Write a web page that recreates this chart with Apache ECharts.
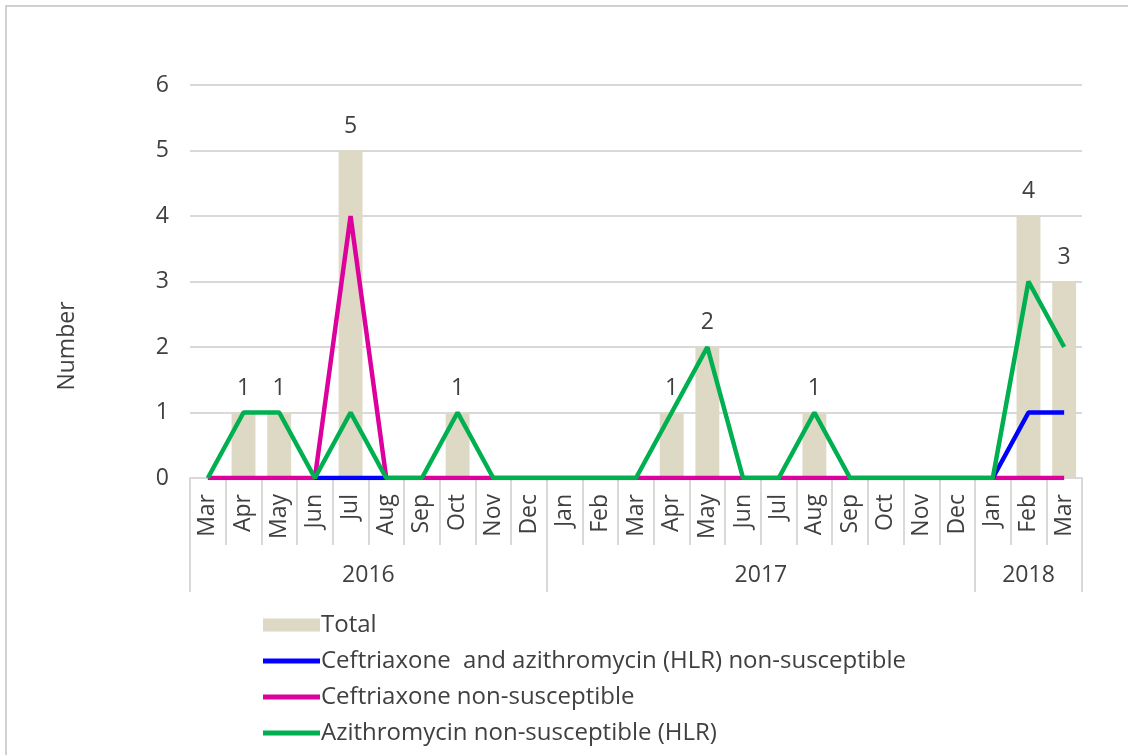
<!DOCTYPE html>
<html>
<head>
<meta charset="utf-8">
<script src="https://cdn.jsdelivr.net/npm/echarts@6/dist/echarts.min.js"></script>
<style>
	html, body { margin: 0; padding: 0; background: #fff; }
	#frame { position: absolute; left: 5px; top: 5px; width: 1130px; height: 760px; border: 2px solid #d0d0d0; box-sizing: border-box; }
	#chart { position: absolute; left: 0; top: 0; width: 1128px; height: 755px; }
</style>
</head>
<body>
<div id="frame"></div>
<div id="chart"></div>
<script>
	// months Mar 2016 - Mar 2018
	var months = ['Mar', 'Apr', 'May', 'Jun', 'Jul', 'Aug', 'Sep', 'Oct', 'Nov', 'Dec',
		'Jan', 'Feb', 'Mar', 'Apr', 'May', 'Jun', 'Jul', 'Aug', 'Sep', 'Oct', 'Nov', 'Dec',
		'Jan', 'Feb', 'Mar'];
	var years = ['2016', '2017', '2018'];
	var yearBounds = [0, 10, 22, 25]; // month index where each year starts

	var total = [0, 1, 1, 0, 5, 0, 0, 1, 0, 0, 0, 0, 0, 1, 2, 0, 0, 1, 0, 0, 0, 0, 0, 4, 3];
	var bothNonSus = [null, null, null, 0, 0, 0, null, null, null, null, null, null, null,
		null, null, null, null, null, null, null, null, null, 0, 1, 1];
	var ceftriaxone = [0, 0, 0, 0, 4, 0, 0, 0, 0, 0, 0, 0, 0, 0, 0, 0, 0, 0, 0, 0, 0, 0, 0, 0, 0];
	var azithromycin = [0, 1, 1, 0, 1, 0, 0, 1, 0, 0, 0, 0, 0, 1, 2, 0, 0, 1, 0, 0, 0, 0, 0, 3, 2];

	var font = '"Open Sans", sans-serif';
	var txt = '#404040';
	var gridColor = '#d9d9d9';
	var lineIcon = 'path://M0,0h57v5h-57z';

	// year label positions = middle of each year's span
	var yearMid = [];
	for (var i = 0; i < years.length; i++) {
		yearMid.push((yearBounds[i] + yearBounds[i + 1]) / 2);
	}

	var myChart = echarts.init(document.getElementById('chart'));
	myChart.setOption({
		animation: false,
		textStyle: { fontFamily: font },
		grid: { left: 190, right: 46, top: 85, bottom: 277 },
		graphic: [{
			type: 'text',
			x: 67,
			y: 346,
			rotation: Math.PI / 2,
			style: { text: 'Number', fontSize: 23, fontFamily: font, fill: txt, align: 'center', verticalAlign: 'middle' }
		}],
		legend: {
			orient: 'vertical',
			left: 258,
			top: 608,
			itemWidth: 57,
			itemHeight: 13,
			itemGap: 12,
			symbolKeepAspect: true,
			textStyle: { fontFamily: font, fontSize: 24, lineHeight: 24, color: txt, padding: [0, 0, 0, -4] },
			data: [
				{ name: 'Total', icon: 'rect' },
				{ name: 'Ceftriaxone  and azithromycin (HLR) non-susceptible', icon: lineIcon },
				{ name: 'Ceftriaxone non-susceptible', icon: lineIcon },
				{ name: 'Azithromycin non-susceptible (HLR)', icon: lineIcon }
			]
		},
		xAxis: [{
			type: 'category',
			data: months,
			boundaryGap: true,
			axisLine: { lineStyle: { color: gridColor, width: 2 } },
			axisTick: { show: true, interval: 0, length: 67, lineStyle: { color: gridColor, width: 2 } },
			axisLabel: { interval: 0, rotate: 90, margin: 16, fontSize: 23, color: txt, fontFamily: font }
		}, {
			type: 'value',
			min: 0,
			max: 25,
			position: 'bottom',
			axisLine: { show: false },
			splitLine: { show: false },
			axisTick: { show: true, customValues: yearBounds, length: 114, lineStyle: { color: gridColor, width: 2 } },
			axisLabel: {
				customValues: yearMid,
				margin: 86,
				fontSize: 23,
				color: txt,
				fontFamily: font,
				formatter: function (v) {
					return years[yearMid.indexOf(v)];
				}
			}
		}],
		yAxis: {
			type: 'value',
			min: 0,
			max: 6,
			interval: 1,
			axisLine: { show: false },
			axisTick: { show: false },
			axisLabel: { fontSize: 23, color: txt, margin: 21, fontFamily: font },
			splitLine: { lineStyle: { color: gridColor, width: 2 } }
		},
		series: [{
			name: 'Total',
			type: 'bar',
			data: total,
			barWidth: '67%',
			itemStyle: { color: '#ddd9c4' },
			label: {
				show: true,
				position: 'top',
				distance: 13,
				fontSize: 23,
				color: txt,
				fontFamily: font,
				formatter: function (p) { return p.value > 0 ? p.value : ''; }
			}
		}, {
			name: 'Ceftriaxone non-susceptible',
			type: 'line',
			data: ceftriaxone,
			symbol: 'none',
			lineStyle: { color: '#dc009c', width: 4.5 },
			itemStyle: { color: '#dc009c' }
		}, {
			name: 'Ceftriaxone  and azithromycin (HLR) non-susceptible',
			type: 'line',
			data: bothNonSus,
			symbol: 'none',
			lineStyle: { color: '#0000ff', width: 4.5 },
			itemStyle: { color: '#0000ff' }
		}, {
			name: 'Azithromycin non-susceptible (HLR)',
			type: 'line',
			data: azithromycin,
			symbol: 'none',
			lineStyle: { color: '#00b050', width: 4.5 },
			itemStyle: { color: '#00b050' }
		}]
	});
</script>
</body>
</html>
